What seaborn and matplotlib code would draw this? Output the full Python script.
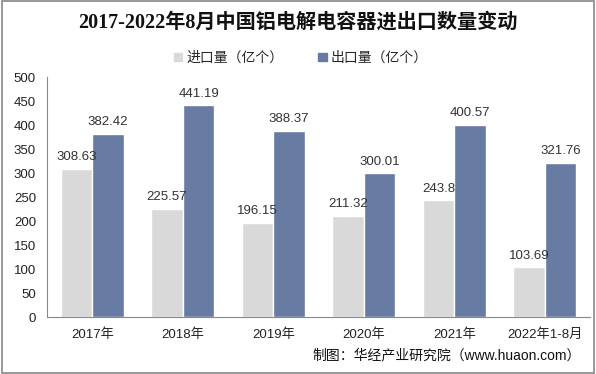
import numpy as np
import pandas as pd
import matplotlib.pyplot as plt
import seaborn as sns
from matplotlib.patches import Rectangle, Patch

years = ['2017年', '2018年', '2019年', '2020年', '2021年', '2022年1-8月']
imports = [308.63, 225.57, 196.15, 211.32, 243.8, 103.69]
exports = [382.42, 441.19, 388.37, 300.01, 400.57, 321.76]
series = ['进口量（亿个）', '出口量（亿个）']

df = pd.DataFrame({'year': years * 2,
                   'value': imports + exports,
                   'kind': [series[0]] * len(years) + [series[1]] * len(years)})

sns.set_style('white')
plt.rcParams['font.family'] = ['Liberation Sans', 'Noto Sans CJK SC', 'DejaVu Sans']

fig = plt.figure(figsize=(5.96, 3.74), dpi=100)
ax = fig.add_axes([0.079, 0.152, 0.911, 0.642])

sns.barplot(data=df, x='year', y='value', hue='kind', ax=ax,
            palette=['#D9D9D9', '#687BA2'], width=0.7, saturation=1,
            legend=False)

for c in ax.containers:
    ax.bar_label(c, fmt='%g', padding=4, fontsize=9.5, color='#333333')

ax.set_ylim(0, 500)
ax.set_xlim(-0.5, 5.5)
ax.set_yticks(range(0, 501, 50))
ax.set_xlabel('')
ax.set_ylabel('')
ax.tick_params(axis='both', labelsize=9.5, colors='#222222')
ax.tick_params(axis='y', length=4, color='#888888', pad=4)
ax.tick_params(axis='x', which='major', length=0, pad=8)
ax.set_xticks(np.arange(-0.5, 6, 1), minor=True)
ax.tick_params(axis='x', which='minor', length=4, color='#888888')
for s in ['top', 'right']:
    ax.spines[s].set_visible(False)
for s in ['left', 'bottom']:
    ax.spines[s].set_color('#888888')
    ax.spines[s].set_linewidth(0.8)

fig.text(0.5, 0.94, '2017-2022年8月中国铝电解电容器进出口数量变动',
         ha='center', va='center', fontsize=14.5, fontweight='bold', color='#111111',
         family=['Liberation Serif', 'Noto Sans CJK SC'])

# legend
handles = [Patch(color='#D9D9D9'), Patch(color='#687BA2')]
fig.legend(handles, series, loc='center', bbox_to_anchor=(0.505, 0.845), ncol=2,
           frameon=False, fontsize=10, handlelength=0.6, handleheight=0.6,
           handletextpad=0.3, columnspacing=2.5)

fig.text(0.975, 0.05, '制图：华经产业研究院（www.huaon.com）', ha='right', va='center',
         fontsize=10, color='#111111')

fig.patches.append(Rectangle((0.003, 0.004), 0.994, 0.992, transform=fig.transFigure,
                             fill=False, edgecolor='#888888', linewidth=1.2))

plt.savefig('out.png', dpi=100)
